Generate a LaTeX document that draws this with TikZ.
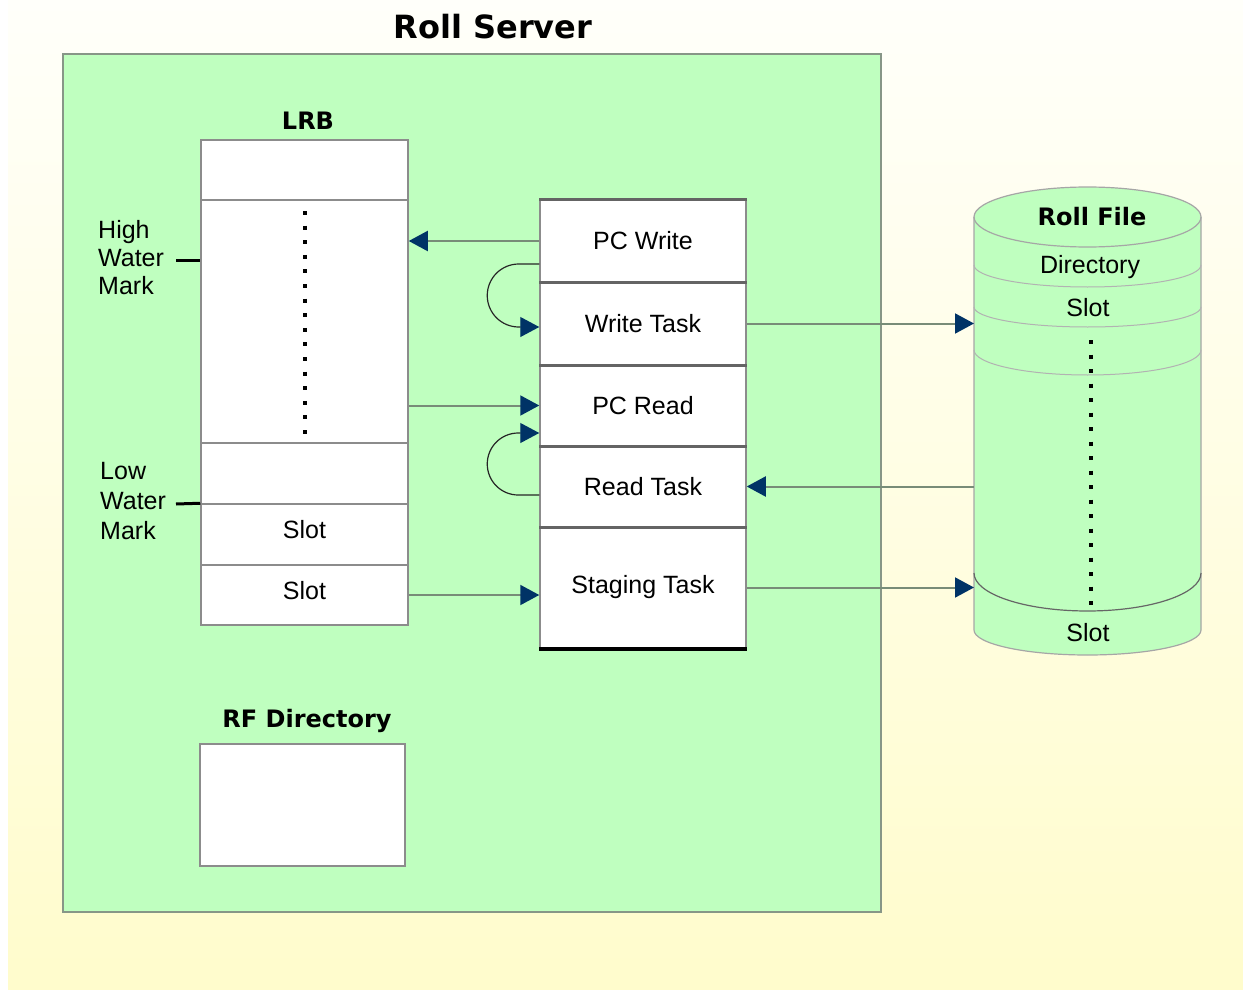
\documentclass[tikz,border=0pt]{standalone}
\usepackage{fontspec}
\setmainfont{Liberation Sans}
\newfontfamily\titlefont{DejaVu Sans}
\usetikzlibrary{arrows.meta,calc}
\definecolor{bggreen}{RGB}{191,255,191}
\definecolor{navy}{RGB}{0,51,102}
\definecolor{edgecol}{RGB}{135,150,135}
\definecolor{cellcol}{RGB}{140,140,140}
\definecolor{conncol}{RGB}{120,140,120}
\definecolor{ylwtop}{RGB}{255,255,250}
\definecolor{ylwbot}{RGB}{255,252,204}
\definecolor{divcol}{RGB}{100,100,100}
\begin{document}
\begin{tikzpicture}[x=1pt,y=-1pt,
  txt/.style={font=\fontsize{25}{28}\selectfont},
  ttl/.style={font=\titlefont\bfseries\fontsize{24}{28}\selectfont},
  lrbcell/.style={draw=cellcol, line width=1.5pt, fill=white, minimum width=207pt, inner sep=0pt, txt},
  taskcell/.style={draw=cellcol, line width=1.5pt, fill=white, minimum width=206pt, inner sep=0pt, txt},
  divider/.style={draw=divcol, line width=3pt},
  conn/.style={draw=conncol, line width=2pt, -{Triangle[length=19pt,width=20pt,fill=navy,color=navy]}},
  loopconn/.style={draw=black!85, line width=1.2pt, -{Triangle[length=19pt,width=20pt,fill=navy,color=navy]}},
  tick/.style={draw=black, line width=3pt},
  dots/.style={draw=black, line width=4pt, dash pattern=on 4pt off 10.6pt},
  band/.style={draw=gray!60, line width=1pt}
]
\useasboundingbox (0,0) rectangle (1243,990);
\fill[white] (0,0) rectangle (1243,990);
\shade[top color=ylwtop, bottom color=ylwbot] (8,0) rectangle (1243,990);

% Roll Server outer box
\node[ttl, font=\titlefont\bfseries\fontsize{32}{36}\selectfont] (title) at (493,27) {Roll Server};
\node[draw=edgecol, line width=2pt, fill=bggreen, minimum width=818pt, minimum height=858pt, inner sep=0pt] (server) at (472,483) {};

% LRB
\node[ttl] (lrblabel) at (308,121) {LRB};
\node[lrbcell, minimum height=60pt] (lrb1) at (304.5,170) {};
\node[lrbcell, minimum height=243pt] (lrb2) at (304.5,321.5) {};
\node[lrbcell, minimum height=61pt] (lrb3) at (304.5,473.5) {};
\node[lrbcell, minimum height=61pt, text depth=10pt] (lrb4) at (304.5,534.5) {Slot};
\node[lrbcell, minimum height=60pt, text depth=10pt] (lrb5) at (304.5,595) {Slot};
\coordinate (lrbdottop) at (305,211);
\coordinate (lrbdotbot) at (305,440);
\draw[dots] (lrbdottop) -- (lrbdotbot);

% water marks
\node[txt, align=left, anchor=west, inner sep=0pt] (hwm) at (98,258) {High\\Water\\Mark};
\node[txt, align=left, anchor=west, inner sep=0pt, font=\fontsize{25}{30}\selectfont] (lwm) at (100,501) {Low\\Water\\Mark};
\coordinate (hwmtick) at (176,260);
\coordinate (lwmtick) at (176,504);
\draw[tick] (hwmtick) -- (hwmtick -| lrb2.west);
\draw[tick] (lwmtick) -- (lrb4.north west);

% Tasks
\node[taskcell, minimum height=82pt] (pcw) at (643,241) {PC Write};
\node[taskcell, minimum height=83pt] (wt) at (643,323.5) {Write Task};
\node[taskcell, minimum height=81pt] (pcr) at (643,405.5) {PC Read};
\node[taskcell, minimum height=81pt] (rt) at (643,486.5) {Read Task};
\node[taskcell, minimum height=121pt] (st) at (643,587.5) {Staging Task};
\draw[divider] (pcw.north west) -- (pcw.north east);
\draw[divider] (pcw.south west) -- (pcw.south east);
\draw[divider] (wt.south west) -- (wt.south east);
\draw[divider] (pcr.south west) -- (pcr.south east);
\draw[divider] (rt.south west) -- (rt.south east);
\draw[draw=black, line width=4pt] (st.south west) -- (st.south east);

% RF Directory
\node[ttl] (rflabel) at (307,721) {RF Directory};
\node[lrbcell, minimum width=205pt, minimum height=122pt] (rfdir) at (302.5,805) {};

% Roll File cylinder
\filldraw[fill=bggreen, draw=gray!70, line width=1.2pt]
  (974,217) -- (974,630) arc[start angle=180, end angle=360, x radius=113.5pt, y radius=25pt]
  -- (1201,217) arc[start angle=0, end angle=180, x radius=113.5pt, y radius=30pt] -- cycle;
\draw[draw=gray!70, line width=1.2pt] (974,217) arc[start angle=180, end angle=360, x radius=113.5pt, y radius=30pt];
\draw[band] (974,265) arc[start angle=180, end angle=360, x radius=113.5pt, y radius=22pt];
\draw[band] (974,307) arc[start angle=180, end angle=360, x radius=113.5pt, y radius=20pt];
\draw[band] (974,350) arc[start angle=180, end angle=360, x radius=113.5pt, y radius=25pt];
\draw[draw=gray!80!black, line width=1.2pt] (974,573) arc[start angle=180, end angle=360, x radius=113.5pt, y radius=38pt];
\node[ttl] (rftitle) at (1092,217) {Roll File};
\node[txt] (rfdirtxt) at (1090,267) {Directory};
\node[txt] (rfslot1) at (1088,308) {Slot};
\node[txt] (rfslot2) at (1088,633) {Slot};
\coordinate (rfdottop) at (1091,340);
\coordinate (rfdotbot) at (1091,606);
\draw[dots, dash pattern=on 4pt off 10.5pt] (rfdottop) -- (rfdotbot);
\coordinate (rfleft) at (974,400);

% Connectors
\draw[conn] (pcw.west) -- (lrb2.east |- pcw.west);
\draw[conn] (lrb2.east |- pcr.west) -- (pcr.west);
\draw[conn] (lrb5.east) -- (st.west |- lrb5.east);
\draw[conn] (wt.east) -- (wt.east -| rfleft);
\draw[conn] (rt.east -| rfleft) -- (rt.east);
\draw[conn] (st.east) -- (st.east -| rfleft);
\draw[loopconn] ([yshift=-23pt]pcw.west) -- ++(-20.5,0) arc[start angle=90, end angle=270, radius=31.5pt] -- ([yshift=-3.5pt]wt.west);
\draw[loopconn] ([yshift=-8.5pt]rt.west) -- ++(-21,0) arc[start angle=270, end angle=90, radius=31pt] -- ([yshift=-27.5pt]pcr.west);
\end{tikzpicture}
\end{document}
